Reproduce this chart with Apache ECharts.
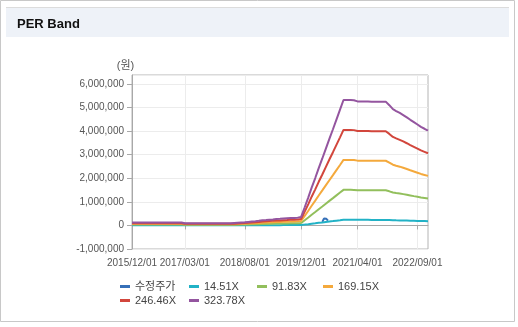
<!DOCTYPE html>
<html>
<head>
<meta charset="utf-8">
<script src="https://cdn.jsdelivr.net/npm/echarts@6/dist/echarts.min.js"></script>
<style>
html,body{margin:0;padding:0;background:#fff;}
#chart{width:518px;height:327px;}
</style>
</head>
<body>
<div id="chart"></div>
<script>
// ---- data ----
const START_YEAR = 2015, START_MONTH = 12, MONTH_COUNT = 85; // 2015/12 .. 2022/12, monthly
const xTickLabels = ['2015/12/01','2017/03/01','2018/08/01','2019/12/01','2021/04/01','2022/09/01'];
const seriesNames = ['수정주가','14.51X','91.83X','169.15X','246.46X','323.78X'];

const priceDates = ['2020-06-01','2020-06-08','2020-06-15','2020-06-22','2020-06-29','2020-07-06','2020-07-13','2020-07-20'];
const priceValues = [150000,230000,290000,320000,310000,280000,240000,200000];

const band1451 = [
 5600,5600,5600,5600,5600,5600,5600,5600,5600,5600,5600,5600,5600,5600,5600,
 4000,4000,4000,4000,4000,4000,4000,4000,4000,4000,4000,4000,4000,4000,
 4500,4900,5400,5800,6700,7400,8100,8700,
 9600,10300,11000,11400,12100,12500,13000,13400,13900,14300,14800,16100,
 34500,53300,71700,90100,108900,127300,145600,164500,182800,201200,220000,238400,
 238400,238400,237900,235700,235700,235700,235700,235300,235300,235300,235300,235300,
 228500,220900,217300,213700,209700,205200,200700,196300,191800,187300,183700,180100
];
const band9183 = [
 35000,35000,35000,35000,35000,35000,35000,35000,35000,35000,35000,35000,35000,35000,35000,
 25500,25500,25500,25500,25500,25500,25500,25500,25500,25500,25500,25500,25500,25500,
 28000,31000,34000,37000,43000,47000,51000,55000,
 61000,65000,69000,72000,77000,79000,82000,85000,88000,91000,94000,102000,
 218000,338000,454000,570000,689000,805000,922000,1041000,1157000,1273000,1393000,1509000,
 1509000,1509000,1506000,1492000,1492000,1492000,1492000,1489000,1489000,1489000,1489000,1489000,
 1446000,1398000,1376000,1353000,1327000,1299000,1271000,1242000,1214000,1186000,1163000,1140000
];
const band16915 = [
 65000,65000,65000,65000,65000,65000,65000,65000,65000,65000,65000,65000,65000,65000,65000,
 47000,47000,47000,47000,47000,47000,47000,47000,47000,47000,47000,47000,47000,47000,
 52000,57000,63000,68000,78000,86000,94000,102000,
 112000,120000,128000,133000,141000,146000,152000,157000,162000,167000,172000,188000,
 402000,622000,836000,1050000,1269000,1484000,1698000,1917000,2131000,2346000,2565000,2779000,
 2779000,2779000,2774000,2748000,2748000,2748000,2748000,2743000,2743000,2743000,2743000,2743000,
 2664000,2576000,2534000,2492000,2445000,2393000,2340000,2288000,2236000,2184000,2142000,2100000
];
const band24646 = [
 95000,95000,95000,95000,95000,95000,95000,95000,95000,95000,95000,95000,95000,95000,95000,
 68500,68500,68500,68500,68500,68500,68500,68500,68500,68500,68500,68500,68500,68500,
 76000,84000,91000,99000,114000,126000,137000,148000,
 164000,175000,186000,194000,206000,213000,221000,228000,236000,244000,251000,274000,
 586000,906000,1218000,1530000,1850000,2162000,2474000,2794000,3106000,3418000,3737000,4050000,
 4050000,4050000,4042000,4004000,4004000,4004000,4004000,3996000,3996000,3996000,3996000,3996000,
 3882000,3753000,3692000,3631000,3562000,3486000,3410000,3334000,3258000,3182000,3121000,3060000
];
const band32378 = [
 125000,125000,125000,125000,125000,125000,125000,125000,125000,125000,125000,125000,125000,125000,125000,
 90000,90000,90000,90000,90000,90000,90000,90000,90000,90000,90000,90000,90000,90000,
 100000,110000,120000,130000,150000,165000,180000,195000,
 215000,230000,245000,255000,270000,280000,290000,300000,310000,320000,330000,360000,
 770000,1190000,1600000,2010000,2430000,2840000,3250000,3670000,4080000,4490000,4910000,5320000,
 5320000,5320000,5310000,5260000,5260000,5260000,5260000,5250000,5250000,5250000,5250000,5250000,
 5100000,4930000,4850000,4770000,4680000,4580000,4480000,4380000,4280000,4180000,4100000,4020000
];

// ---- build ----
const monthDates = [];
for (let i = 0; i < MONTH_COUNT; i++) monthDates.push(new Date(START_YEAR, START_MONTH - 1 + i, 1).getTime());
function parseTick(s){ const p = s.split('/').map(Number); return new Date(p[0], p[1]-1, p[2]).getTime(); }
function parseDash(s){ const p = s.split('-').map(Number); return new Date(p[0], p[1]-1, p[2]).getTime(); }
const tickValues = xTickLabels.map(parseTick);
function pad(n){ return (n < 10 ? '0' : '') + n; }
function fmtDate(v){ const d = new Date(v); return d.getFullYear() + '/' + pad(d.getMonth()+1) + '/' + pad(d.getDate()); }
function pairs(vals){ return vals.map((v, i) => [monthDates[i], v]); }

const bandValues = [band1451, band9183, band16915, band24646, band32378];
const colors = ['#3670b8','#22b2c6','#92bf5c','#f4a93c','#d2463c','#94559f'];
const FONT = '"Liberation Sans", Arial, "Noto Sans CJK KR", sans-serif';

const series = [{
  name: seriesNames[0], type: 'line', showSymbol: false, z: 3,
  data: priceDates.map((d, i) => [parseDash(d), priceValues[i]]),
  lineStyle: { width: 2, color: colors[0] }, itemStyle: { color: colors[0] }
}];
bandValues.forEach((vals, k) => {
  series.push({
    name: seriesNames[k+1], type: 'line', showSymbol: false, data: pairs(vals),
    lineStyle: { width: 2, color: colors[k+1] }, itemStyle: { color: colors[k+1] }
  });
});

const legendPos = [[120,281],[189,281],[257,281],[323,281],[120,295],[189,295]];
const legends = seriesNames.map((n, i) => ({
  data: [n], left: legendPos[i][0], top: legendPos[i][1], padding: 0,
  icon: 'rect', itemWidth: 10, itemHeight: 3,
  textStyle: { fontSize: 11, color: '#444', fontFamily: FONT }
}));

const chart = echarts.init(document.getElementById('chart'), null, { renderer: 'canvas' });
chart.setOption({
  animation: false,
  backgroundColor: '#fff',
  textStyle: { fontFamily: FONT },
  graphic: [
    { type: 'rect', shape: { x: 0.5, y: 0.5, width: 514, height: 321 }, style: { fill: '#fff', stroke: '#c8c8c8', lineWidth: 1 }, z: -10, silent: true },
    { type: 'rect', shape: { x: 6, y: 8, width: 503, height: 29 }, style: { fill: '#eef2f8' }, z: -9, silent: true },
    { type: 'line', shape: { x1: 6, y1: 7.5, x2: 509, y2: 7.5 }, style: { stroke: '#dcdcdc', lineWidth: 1 }, z: -9, silent: true }
  ],
  title: {
    text: 'PER Band', left: 17, top: 18, padding: 0,
    textStyle: { fontSize: 13, fontWeight: 'bold', color: '#111', fontFamily: FONT }
  },
  legend: legends,
  grid: {
    left: 132, right: 90, top: 75, bottom: 78,
    show: true, borderColor: '#b4b4b4', borderWidth: 1,
    outerBoundsMode: 'none'
  },
  xAxis: {
    type: 'value',
    min: monthDates[0], max: monthDates[MONTH_COUNT - 1],
    axisLine: { lineStyle: { color: '#a8a8a8' } },
    axisTick: { show: true, customValues: tickValues, length: 4, lineStyle: { color: '#a8a8a8' } },
    axisLabel: { customValues: tickValues, formatter: fmtDate, fontSize: 10, color: '#555', margin: 9, hideOverlap: false },
    splitLine: { show: true, lineStyle: { color: '#ececec' } }
  },
  yAxis: {
    type: 'value',
    min: -1000000, max: 6380000, interval: 1000000,
    name: '(원)', nameLocation: 'end', nameGap: 4,
    nameTextStyle: { fontSize: 11, color: '#555', align: 'center', padding: [0, 13, 0, 0] },
    axisLine: { show: true, lineStyle: { color: '#a8a8a8' } },
    axisTick: { show: true, length: 5, lineStyle: { color: '#a8a8a8' } },
    axisLabel: { fontSize: 10, color: '#555', margin: 8, showMaxLabel: false },
    splitLine: { show: true, lineStyle: { color: '#ececec' } }
  },
  series: series
});
</script>
</body>
</html>
